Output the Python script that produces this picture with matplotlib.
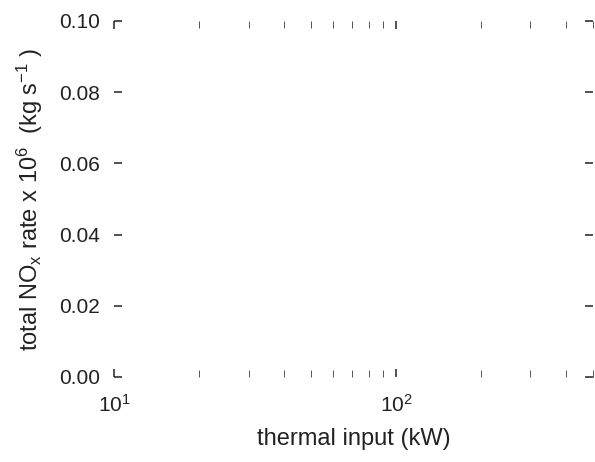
import matplotlib
matplotlib.use("Agg")
import matplotlib.pyplot as plt
from matplotlib.ticker import FixedLocator, NullFormatter

plt.rcParams['font.family'] = ['Liberation Sans', 'DejaVu Sans']
plt.rcParams['mathtext.fontset'] = 'custom'
plt.rcParams['mathtext.rm'] = 'Liberation Sans'
plt.rcParams['mathtext.it'] = 'Liberation Sans'
plt.rcParams['mathtext.bf'] = 'Liberation Sans:bold'

# Axis ranges and ticks (the chart contains no data series)
x_limits = [10, 500]
y_limits = [0.0, 0.10]
y_ticks = [0.00, 0.02, 0.04, 0.06, 0.08, 0.10]
y_tick_labels = ["0.00", "0.02", "0.04", "0.06", "0.08", "0.10"]
x_major_ticks = [10, 100]
x_major_labels = [r"$\mathregular{10^{1}}$", r"$\mathregular{10^{2}}$"]
x_minor_ticks = [20, 30, 40, 50, 60, 70, 80, 90, 200, 300, 400, 500]

x_label = "thermal input (kW)"
y_label = r"total NO$_\mathregular{x}$ rate x 10$^\mathregular{6}$  (kg s$^\mathregular{-1}$ )"

fig = plt.figure(figsize=(5.95, 4.62), dpi=100)
ax = fig.add_axes([114/595, 1 - 377/462, (593 - 114)/595, (377 - 21)/462])

ax.set_xscale('log')
ax.set_xlim(*x_limits)
ax.set_ylim(*y_limits)

ax.xaxis.set_major_locator(FixedLocator(x_major_ticks))
ax.set_xticklabels(x_major_labels)
ax.xaxis.set_minor_locator(FixedLocator(x_minor_ticks))
ax.xaxis.set_minor_formatter(NullFormatter())

ax.set_yticks(y_ticks)
ax.set_yticklabels(y_tick_labels)

for s in ax.spines.values():
    s.set_visible(False)

txt_col = '#222222'
ax.tick_params(axis='both', which='major', direction='in', length=5.8, width=1.1,
               color=txt_col, top=True, right=True, labelsize=15, labelcolor=txt_col)
ax.tick_params(axis='x', which='minor', direction='in', length=5.2, width=0.7,
               color='#555555', top=True, bottom=True)
ax.tick_params(axis='y', which='major', pad=10)
ax.tick_params(axis='x', which='major', pad=12)

ax.set_xlabel(x_label, fontsize=17, color=txt_col, labelpad=9)
ax.set_ylabel(y_label, fontsize=17, color=txt_col, labelpad=10)

fig.savefig("out.png", dpi=100)
